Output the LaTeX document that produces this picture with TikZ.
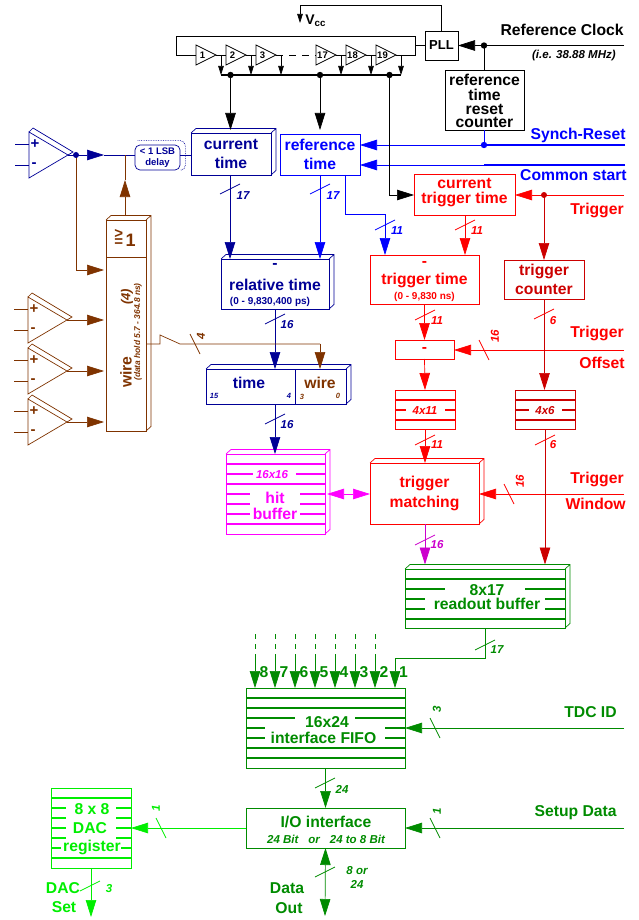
\documentclass[tikz,border=0pt]{standalone}
\usepackage{fontspec}
\setmainfont{Liberation Sans}
\usepackage{xcolor}
\usepackage{tikz}
\usetikzlibrary{arrows.meta,calc}
\definecolor{ColNavy}{RGB}{0,0,150}
\definecolor{ColBlue}{RGB}{0,0,255}
\definecolor{ColBrown}{RGB}{127,51,0}
\definecolor{ColRed}{RGB}{255,0,0}
\definecolor{ColDark}{RGB}{204,0,0}
\definecolor{ColPink}{RGB}{255,0,255}
\definecolor{ColPurple}{RGB}{204,0,204}
\definecolor{ColGreen}{RGB}{0,139,0}
\definecolor{ColLime}{RGB}{0,238,0}

% side face of a block: node, colour
\newcommand{\DepthBox}[2]{%
  \draw[#2] (#1.north west) -- ++(5,-4.5) -- ($(#1.north east)+(5,-4.5)$)
    -- ($(#1.south east)+(5,-4.5)$) -- (#1.south east)
    (#1.north east) -- ++(5,-4.5);}
% bar on a vertical bus: colour, x, y, label dx, label dy, label
\newcommand{\TickV}[6]{%
  \draw[#1] (#2,#3)+(-10,5) -- +(10,-5);
  \node[ticktxt,#1] (tick#2x#3) at (#2+#4,#3+#5) {#6};}
% bar on a horizontal bus, label lying on its side
\newcommand{\TickH}[6]{%
  \draw[#1] (#2,#3)+(-5,-10) -- +(5,10);
  \node[ticktxt,#1,rotate=90] (tick#2x#3) at (#2+#4,#3+#5) {#6};}
% rows of a memory: colour, left, right, y/gap start/gap end
\newcommand{\MemRows}[4]{%
  \foreach \yy/\ga/\gb in {#4}{
    \draw[#1,line width=2pt] (#2,\yy) -- (\ga,\yy) (\gb,\yy) -- (#3,\yy);
  }}
% comparator: colour, name, left x, tip y
\newcommand{\Comp}[4]{%
  \coordinate (#2out) at (#3+39,#4);
  \coordinate (#2p) at (#3-14,#4-11);
  \coordinate (#2m) at (#3-14,#4+10);
  \draw[#1] (#3,#4-23) -- (#2out) -- (#3,#4+23) -- cycle;
  \draw[#1] (#3,#4-23) -- (#3+4,#4-27) -- (#3+44,#4-3) -- (#2out);
  \draw[#1] (#2p) -- (#3,#4-11) (#2m) -- (#3,#4+10);
  \node[signtxt,#1] (#2plus) at (#3+6,#4-11) {+};
  \node[signtxt,#1] (#2minus) at (#3+5,#4+10) {-};}

\begin{document}
\begin{tikzpicture}[
  x=1pt,y=-1pt,
  >={Stealth[length=17pt,width=10.5pt,inset=0pt]},
  line width=0.7pt,
  line join=miter,
  taphead/.style={>={Stealth[length=9pt,width=5.5pt,inset=0pt]}},
  txt/.style={font=\bfseries\fontsize{15.7}{19}\selectfont,inner sep=0pt,align=center},
  smalltxt/.style={font=\bfseries\fontsize{10}{11}\selectfont,inner sep=0pt,align=center},
  ticktxt/.style={font=\bfseries\itshape\fontsize{11.5}{14}\selectfont,inner sep=0pt,align=center},
  tinytxt/.style={font=\bfseries\itshape\fontsize{7.5}{9}\selectfont,inner sep=0pt},
  signtxt/.style={font=\bfseries\fontsize{15}{15}\selectfont,inner sep=0pt},
  blk/.style={draw,inner sep=0pt,outer sep=0pt,align=center,
    font=\bfseries\fontsize{15.7}{19}\selectfont}
]
  \useasboundingbox (0,0) rectangle (639,920);

  % Delay line and PLL
  \node[blk,black,minimum width=33pt,minimum height=29pt,font=\bfseries\fontsize{13}{15}\selectfont] (pll) at (441.5,45.5) {PLL};
  \node[blk,black,minimum width=79pt,minimum height=60pt] (refcnt) at (484.5,100) {};
  \node[txt,black] (refcnttxt) at (484.5,101) {reference\\[-4.5pt]time\\[-4.5pt]reset\\[-6.5pt]counter};
  \coordinate (vcctop) at (300,5);
  \coordinate (vcctip) at (300,23);
  \draw[taphead,->,black] (pll.north) |- (vcctop) -- (vcctip);
  \node[txt,black,anchor=west,font=\bfseries\fontsize{14}{15}\selectfont] (vcc) at (305,21) {V\textsubscript{cc}};

  \foreach \x/\n in {196/1,226/2,256/3,316/17,346/18,376/19}{
    \coordinate (bufin\n) at (\x,55);
    \coordinate (bufout\n) at (\x+20,55);
    \coordinate (tap\n) at (\x+25,55);
    \coordinate (bus\n) at (\x+25,75);
    \draw[black] (\x,45) -- (bufout\n) -- (\x,65) -- cycle;
    \node[font=\bfseries\fontsize{9.5}{10}\selectfont,inner sep=0pt,black] (buf\n) at (\x+6.5,55) {\n};
    \draw[taphead,->,black] (tap\n) -- (bus\n);
  }
  \foreach \a/\b in {1/2,2/3,17/18,18/19}{
    \draw[black] (bufout\a) -- (bufin\b);
  }
  \draw[black,dash pattern=on 7pt off 6pt] (bufout3) -- (bufin17);
  \coordinate (ringr) at (415,55);
  \coordinate (ringtr) at (415,36);
  \coordinate (ringtl) at (176,36);
  \coordinate (ringl) at (176,55);
  \draw[black] (bufin1) -- (ringl) -- (ringtl) -- (ringtr) -- (ringr) -- (bufout19);
  \draw[black] (pll.west) -- (pll.west -| ringr);
  \draw[black,line width=2.6pt] (bus1) -- (bus19);

  \coordinate (busA) at (230.5,75);
  \coordinate (busB) at (320,75);
  \coordinate (busC) at (389.5,75);
  \foreach \pt in {busA,busB,busC}{
    \fill[black] (\pt) circle (3.2);
  }

  % Reference clock and resets
  \coordinate (clkend) at (624,45.5);
  \coordinate (clkdot) at (484,45.5);
  \draw[black] (clkend) -- (clkdot);
  \draw[->,black] (clkdot) -- (pll.east);
  \draw[black] (clkdot) -- (refcnt.north -| clkdot);
  \fill[black] (clkdot) circle (3.2);
  \node[txt,black,anchor=east] (refclk) at (624,30) {Reference Clock};
  \node[ticktxt,black,anchor=east] (refclknote) at (616,56) {(i.e. 38.88 MHz)};

  \node[blk,ColNavy,minimum width=80pt,minimum height=42pt] (curtime) at (231,154) {current\\time};
  \DepthBox{curtime}{ColNavy}
  \node[blk,ColBlue,minimum width=80pt,minimum height=41pt] (reftime) at (320,154.5) {reference\\time};
  \draw[->,black,shorten >=3pt] (busA) -- (busA |- curtime.north);
  \draw[->,black,shorten >=4pt] (busB) -- (busB |- reftime.north);

  \coordinate (syncend) at (625,145);
  \coordinate (syncdot) at (484,145);
  \coordinate (startend) at (625,165);
  \coordinate (startmid) at (484,165);
  \draw[ColBlue,line width=1.2pt] (syncend) -- (syncdot);
  \draw[->,ColBlue] (syncdot) -- (syncdot -| reftime.east);
  \draw[ColBlue] (refcnt.south -| syncdot) -- (syncdot);
  \fill[ColBlue] (syncdot) circle (3.2);
  \draw[ColBlue,line width=1.2pt] (startend) -- (startmid);
  \draw[->,ColBlue] (startmid) -- (startmid -| reftime.east);
  \node[txt,ColBlue,anchor=east] (synctxt) at (626,135) {Synch-Reset};
  \node[txt,ColBlue,anchor=east] (starttxt) at (627,175) {Common start};

  % Trigger time path
  \node[blk,ColRed,minimum width=101pt,minimum height=41pt] (curtrig) at (464.5,194.5) {};
  \node[txt,ColRed] (curtrigtxt) at (464.5,192.5) {current\\[-4pt]trigger time};
  \coordinate (trigend) at (624,195);
  \coordinate (trigdot) at (544,195);
  \draw[ColRed] (trigend) -- (trigdot);
  \draw[->,ColRed] (trigdot) -- (curtrig.east |- trigdot);
  \fill[ColDark] (trigdot) circle (3);
  \node[txt,ColRed,anchor=east] (trigtxt) at (624,210) {Trigger};
  \coordinate (curtrigin) at (389.5,195);
  \draw[->,black] (busC) -- (curtrigin) -- (curtrig.west |- curtrigin);

  \node[blk,ColRed,minimum width=109pt,minimum height=49pt] (trigtime) at (424.5,279.5) {};
  \node[txt,ColRed] (trigminus) at (424.5,264) {-};
  \node[txt,ColRed] (trigtimetxt) at (424.5,280) {trigger time};
  \node[smalltxt,ColRed] (trigrange) at (424.5,297) {(0 - 9,830 ns)};
  \coordinate (refdrop) at (345,175);
  \coordinate (refbend) at (345,214);
  \coordinate (refbendb) at (385,214);
  \draw[ColBlue] (refdrop) -- (refbend) -- (refbendb);
  \draw[->,ColBlue] (refbendb) -- (refbendb |- trigtime.north);
  \TickV{ColBlue}{385}{225}{12}{6}{11}
  \coordinate (curtrigout) at (465,215);
  \draw[->,ColRed] (curtrigout) -- (curtrigout |- trigtime.north);
  \TickV{ColRed}{465}{225}{12}{6}{11}

  \node[blk,ColDark,minimum width=80pt,minimum height=39pt] (trigcnt) at (544,279.5) {trigger\\counter};
  \draw[->,ColDark] (trigdot) -- (trigdot |- trigcnt.north);

  \node[blk,ColRed,minimum width=59pt,minimum height=19pt] (minus) at (424.5,349.5) {-};
  \draw[->,ColRed] (trigtime.south) -- (minus.north);
  \TickV{ColRed}{425}{315}{12}{6}{11}
  \coordinate (offsetend) at (624,350);
  \draw[->,ColRed] (offsetend) -- (minus.east |- offsetend);
  \TickH{ColRed}{484}{350}{11}{-14}{16}
  \node[txt,ColRed,anchor=east] (offsettxta) at (624,333) {Trigger};
  \node[txt,ColRed,anchor=east] (offsettxtb) at (625,363) {Offset};

  \node[blk,ColRed,minimum width=60pt,minimum height=39pt] (memA) at (425,409.5) {};
  \MemRows{ColRed}{395}{455}{400/425/425,410/406/445,420/425/425}
  \node[ticktxt,ColRed] (memAtxt) at (425,411) {4x11};
  \draw[->,ColRed] (minus.south) -- (memA.north);

  \node[blk,ColDark,minimum width=60pt,minimum height=39pt] (memB) at (545,409.5) {};
  \MemRows{ColDark}{515}{575}{400/545/545,410/529/562,420/545/545}
  \node[ticktxt,ColDark] (memBtxt) at (545,411) {4x6};
  \coordinate (cntout) at (544.5,299);
  \draw[->,ColDark] (cntout) -- (cntout |- memB.north);
  \TickV{ColRed}{544}{314}{9}{7}{6}

  % Matching and readout
  \node[blk,ColRed,minimum width=109pt,minimum height=61pt] (match) at (424.5,493.5) {trigger\\[1pt]matching};
  \DepthBox{match}{ColRed}
  \draw[->,ColRed] (memA.south) -- (memA.south |- match.north);
  \TickV{ColRed}{425}{440}{12}{5}{11}
  \coordinate (winend) at (624,494);
  \draw[->,ColRed] (winend) -- (winend -| match.east) ;
  \TickH{ColRed}{509}{494}{11}{-13}{16}
  \node[txt,ColRed,anchor=east] (wintxta) at (624,479) {Trigger};
  \node[txt,ColRed,anchor=east] (wintxtb) at (626,504) {Window};

  \node[blk,ColPink,minimum width=99pt,minimum height=80pt] (hit) at (275.5,494) {};
  \DepthBox{hit}{ColPink}
  \MemRows{ColPink}{226}{325}{464/275/275,474/253/296,484/275/275,494/250/300,504/250/300,514/250/300,524/275/275}
  \node[ticktxt,ColPink] (hitsize) at (272,475) {16x16};
  \node[txt,ColPink] (hittxta) at (275,498) {hit};
  \node[txt,ColPink] (hittxtb) at (275,514) {buffer};
  \coordinate (hitr) at (327,494);
  \draw[<->,ColPink] (hitr) -- (match.west |- hitr);

  \node[blk,ColGreen,minimum width=160pt,minimum height=59pt] (readout) at (485,598.5) {};
  \DepthBox{readout}{ColGreen}
  \MemRows{ColGreen}{405}{565}{579/485/485,589/445/525,599/425/545,609/425/545,619/485/485}
  \node[txt,ColGreen] (readtxta) at (487,590) {8x17};
  \node[txt,ColGreen] (readtxtb) at (487,604) {readout buffer};
  \coordinate (matchout) at (425,524);
  \draw[->,ColPurple,shorten >=4.5pt] (matchout) -- (matchout |- readout.north);
  \TickV{ColPurple}{425}{540}{12}{5}{16}
  \coordinate (memBout) at (545,429);
  \draw[->,ColDark,shorten >=4.5pt] (memBout) -- (memBout |- readout.north);
  \TickV{ColRed}{545}{440}{8}{5}{6}

  % Time stamp path
  \node[blk,ColNavy,minimum width=108pt,minimum height=50pt] (relative) at (275,284) {};
  \DepthBox{relative}{ColNavy}
  \node[txt,ColNavy] (relminus) at (275,266) {-};
  \node[txt,ColNavy] (reltxt) at (275,285) {relative time};
  \node[smalltxt,ColNavy] (relrange) at (270,302) {(0 - 9,830,400 ps)};
  \coordinate (curout) at (230,175);
  \coordinate (refout) at (320,175);
  \draw[->,ColNavy] (curout) -- (curout |- relative.north);
  \draw[->,ColBlue] (refout) -- (refout |- relative.north);
  \TickV{ColNavy}{230}{189}{13}{7}{17}
  \TickV{ColBlue}{320}{189}{13}{7}{17}

  \node[blk,ColNavy,minimum width=140pt,minimum height=35pt] (stamp) at (276,386.5) {};
  \DepthBox{stamp}{ColNavy}
  \coordinate (stampdiv) at (295,369);
  \draw[ColNavy] (stampdiv) -- (stampdiv |- stamp.south);
  \node[txt,ColNavy] (stamptime) at (249,383) {time};
  \node[txt,ColBrown] (stampwire) at (320,383) {wire};
  \node[tinytxt,ColNavy] (stampa) at (214,396) {15};
  \node[tinytxt,ColNavy] (stampb) at (289,396) {4};
  \node[tinytxt,ColBrown] (stampc) at (302,397) {3};
  \node[tinytxt,ColBrown] (stampd) at (338,396) {0};
  \draw[->,ColNavy] (relative.south) -- (relative.south |- stamp.north);
  \TickV{ColNavy}{275}{319}{12}{6}{16}
  \draw[->,ColNavy] (relative.south |- stamp.south) -- (relative.south |- hit.north);
  \TickV{ColNavy}{275}{419}{12}{6}{16}

  % Hit inputs
  \Comp{ColNavy}{cmpA}{29}{155}
  \Comp{ColBrown}{cmpB}{28}{320}
  \Comp{ColBrown}{cmpC}{28}{371}
  \Comp{ColBrown}{cmpD}{28}{422}

  \node[blk,ColBrown,minimum width=40pt,minimum height=211pt] (wirebox) at (126,325.5) {};
  \DepthBox{wirebox}{ColBrown}
  \coordinate (wirediv) at (106,257);
  \draw[ColBrown] (wirediv) -- (wirediv -| wirebox.east);
  \node[inner sep=0pt,ColBrown,font=\bfseries\fontsize{15}{15}\selectfont] (wireor) at (125,238)
    {\shortstack{>\\[-2pt]=}\,{\fontsize{18}{18}\selectfont 1}};
  \node[txt,ColBrown,rotate=90] (wiretxt) at (126,372) {wire};
  \node[ticktxt,ColBrown,rotate=90,font=\bfseries\itshape\fontsize{13}{14}\selectfont] (wirenum) at (127,297) {(4)};
  \node[ticktxt,ColBrown,rotate=90,font=\bfseries\itshape\fontsize{8.4}{9}\selectfont] (wirehold) at (138,332) {(data hold 5.7 - 364.8 ns)};

  \node[draw,ColNavy,rounded corners=5,inner sep=0pt,minimum width=45pt,minimum height=25pt,align=center,
    font=\bfseries\fontsize{9.5}{10.5}\selectfont] (delay) at (157.5,157.5) {< 1 LSB\\delay};
  \draw[ColNavy,densely dotted,rounded corners=5] ($(delay.north west)+(3,-4)$) -| ($(delay.south east)+(5,0)$) -- (delay.south east);

  \coordinate (cmpAdot) at (76,155);
  \coordinate (cmpAhead) at (104,155);
  \coordinate (delayin) at (135,155);
  \coordinate (delayout) at (180,155);
  \draw[ColNavy] (cmpAout) -- (cmpAdot);
  \draw[->,ColNavy] (cmpAdot) -- (cmpAhead);
  \draw[ColNavy] (cmpAhead) -- (delayin);
  \draw[ColNavy] (delayout) -- (delayout -| curtime.west);
  \coordinate (orjoin) at (125,155);
  \coordinate (orhead) at (125,180);
  \coordinate (ortop) at (125,216);
  \draw[->,ColBrown] (ortop) -- (orhead);
  \draw[ColBrown] (orhead) -- (orjoin);
  \coordinate (cmpAdown) at (76,270);
  \draw[->,ColBrown,shorten >=2pt] (cmpAdot) -- (cmpAdown) -- (cmpAdown -| wirebox.west);
  \fill[ColNavy] (cmpAdot) circle (3);
  \foreach \pt in {cmpB,cmpC,cmpD}{
    \draw[->,ColBrown,shorten >=2pt] (\pt out) -- (\pt out -| wirebox.west);
  }

  \coordinate (wirea) at (146,344);
  \coordinate (wireb) at (160,344);
  \coordinate (wirec) at (160,335);
  \coordinate (wired) at (180,344);
  \coordinate (wiree) at (320,344);
  \draw[ColBrown] (wirea) -- (wireb) -- (wirec) -- (wired) -- (wiree);
  \draw[->,ColBrown] (wiree) -- (wiree |- stamp.north);
  \TickH{ColBrown}{195}{344}{6}{-8}{4}

  % FIFO and interface
  \node[blk,ColGreen,minimum width=159pt,minimum height=80pt] (fifo) at (325.5,728) {};
  \MemRows{ColGreen}{246}{405}{698/325/325,708/325/325,718/295/355,728/265/385,738/265/385,748/325/325,758/325/325}
  \node[txt,ColGreen] (fifotxta) at (327,722) {16x24};
  \node[txt,ColGreen] (fifotxtb) at (323.5,738) {interface FIFO};
  \foreach \x/\n in {255/8,275/7,295/6,315/5,335/4,355/3,375/2}{
    \coordinate (chana\n) at (\x,634);
    \coordinate (chanb\n) at (\x,655);
    \draw[ColGreen,dash pattern=on 5pt off 5pt] (chana\n) -- (chanb\n);
    \draw[->,ColGreen] (chanb\n) -- (chanb\n |- fifo.north);
    \node[txt,ColGreen] (num\n) at (\x+9,672) {\n};
  }
  \node[txt,ColGreen] (num1) at (403.5,672) {1};
  \coordinate (readcorner) at (485,658);
  \coordinate (chan1) at (395,658);
  \draw[ColGreen] (readout.south) -- (readcorner) -- (chan1);
  \draw[->,ColGreen] (chan1) -- (chan1 |- fifo.north);
  \TickV{ColGreen}{485}{645}{12}{5}{17}

  \coordinate (tdcend) at (624,728);
  \draw[->,ColGreen] (tdcend) -- (fifo.east |- tdcend);
  \TickH{ColGreen}{435}{728}{2}{-19}{3}
  \node[txt,ColGreen,anchor=east] (tdctxt) at (617,712) {TDC ID};

  \node[blk,ColGreen,minimum width=159pt,minimum height=40pt] (io) at (325.5,828) {};
  \node[txt,ColGreen] (iotxt) at (326,822) {I/O interface};
  \node[ticktxt,ColGreen] (iomode) at (326,839) {24 Bit\hspace{10pt}or\hspace{10pt}24 to 8 Bit};
  \draw[->,ColGreen] (fifo.south) -- (io.north);
  \TickV{ColGreen}{325}{783}{17}{6}{24}
  \coordinate (setupend) at (624,828);
  \draw[->,ColGreen] (setupend) -- (io.east);
  \TickH{ColGreen}{435}{828}{2}{-17}{1}
  \node[txt,ColGreen,anchor=east] (setuptxt) at (617,813) {Setup Data};

  \coordinate (dataend) at (325,916);
  \draw[<->,ColGreen] (io.south) -- (dataend);
  \TickV{ColGreen}{325}{872}{32}{5}{8 or\\24}
  \node[txt,ColGreen] (datatxta) at (287,888) {Data};
  \node[txt,ColGreen] (datatxtb) at (289,908) {Out};

  % DAC register
  \node[blk,ColLime,minimum width=80pt,minimum height=80pt] (dac) at (91,828) {};
  \MemRows{ColLime}{51}{131}{798/91/91,808/66/116,818/66/116,828/66/116,838/66/116,848/61/121,858/91/91}
  \node[txt,ColLime] (dactxta) at (92,809) {8 x 8};
  \node[txt,ColLime] (dactxtb) at (90,828) {DAC};
  \node[txt,ColLime] (dactxtc) at (92,847) {register};
  \draw[->,ColLime] (io.west) -- (dac.east);
  \TickH{ColLime}{161}{828}{-5}{-20}{1}
  \coordinate (dacend) at (91,917);
  \draw[->,ColLime] (dac.south) -- (dacend);
  \TickV{ColLime}{90}{886}{19}{3}{3}
  \node[txt,ColLime] (dacset) at (63,888) {DAC};
  \node[txt,ColLime] (dacsetb) at (64,907) {Set};
\end{tikzpicture}
\end{document}
